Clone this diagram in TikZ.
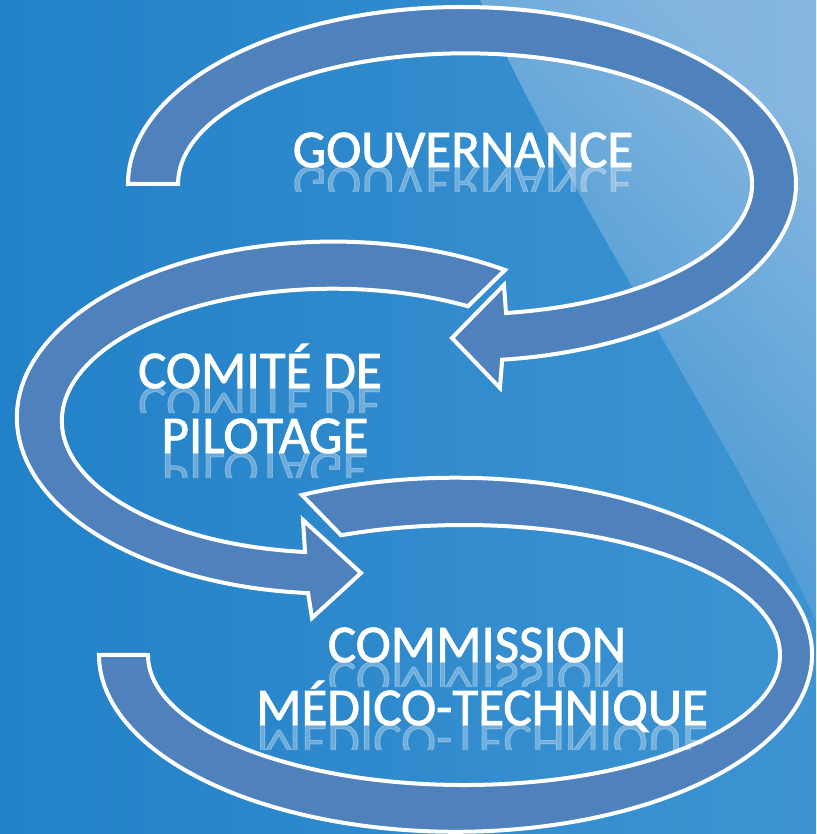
\documentclass[tikz,border=0pt]{standalone}
\usepackage{fontspec}
\setmainfont{Carlito}
\newfontfamily\titrefont{Carlito}[FakeBold=1.6]
\usepackage{tikz}
\usepackage{graphicx}
\definecolor{fond}{RGB}{34,129,200}
\definecolor{fondmilieu}{RGB}{62,148,210}
\definecolor{fondclair}{RGB}{156,194,228}
\definecolor{bande}{RGB}{79,129,189}

\begin{document}
\begin{tikzpicture}[x=1pt, y=-1pt,
        bande/.style={fill=bande, draw=white, line width=4pt, line join=miter},
        titre/.style={text=white, font=\titrefont\fontsize{53}{64}\selectfont, anchor=base, inner sep=0pt},
        reflet/.style={titre, text opacity=0.3}]
        \useasboundingbox (0,0) rectangle (816,834);
        \shade[left color=fond, right color=fondmilieu] (0,0) rectangle (816,834);
        \shade[top color=fondclair, bottom color=fondmilieu, shading angle=-45, opacity=0.75]
            (480,0) .. controls (570,200) and (720,420) .. (816,620) -- (816,0) -- cycle;

        \draw[bande] (128,184) arc[start angle=180, end angle=443.1, x radius=334, y radius=177]
            -- (500,388) -- (452,338) -- (504,285) -- (506,313)
            arc[start angle=441.8, end angle=180, x radius=287, y radius=130.5] -- cycle;
        \draw[bande] (505,270) arc[start angle=-57, end angle=-265.5, x radius=316, y radius=176]
            -- (312,618) -- (361,573) -- (303,520) -- (305,552)
            arc[start angle=-264.1, end angle=-60.1, x radius=271, y radius=132] -- cycle;
        \draw[bande] (302,495) arc[start angle=244.5, end angle=540, x radius=356.5, y radius=177]
            -- (148,655)
            arc[start angle=540, end angle=247.1, x radius=316, y radius=130] -- cycle;

        \node[titre] (gouv) at (463,167) {GOUVERNANCE};
        \node[titre] (comite) at (260,388) {COMITÉ DE};
        \node[titre] (pilot) at (265,453) {PILOTAGE};
        \node[titre] (commission) at (477,662) {COMMISSION};
        \node[titre] (medico) at (482,725) {MÉDICO-TECHNIQUE};

        \begin{scope}
            \clip (250,167) rectangle (680,192) (100,388) rectangle (420,413)
                (100,453) rectangle (420,478) (250,662) rectangle (750,687)
                (200,725) rectangle (760,750);
            \node[reflet] (gouvr) at (gouv.base) {\scalebox{1}[-1]{GOUVERNANCE}};
            \node[reflet] (comiter) at (comite.base) {\scalebox{1}[-1]{COMITÉ DE}};
            \node[reflet] (pilotr) at (pilot.base) {\scalebox{1}[-1]{PILOTAGE}};
            \node[reflet] (commissionr) at (commission.base) {\scalebox{1}[-1]{COMMISSION}};
            \node[reflet] (medicor) at (medico.base) {\scalebox{1}[-1]{MÉDICO-TECHNIQUE}};
        \end{scope}
    \end{tikzpicture}
\end{document}
